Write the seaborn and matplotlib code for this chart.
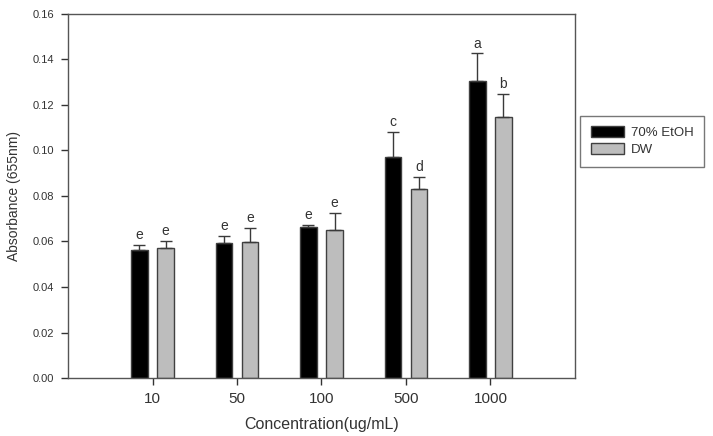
import numpy as np
import pandas as pd
import matplotlib
matplotlib.use("Agg")
import matplotlib.pyplot as plt
import seaborn as sns

# Datos
concentraciones = ["10", "50", "100", "500", "1000"]
etoh_media = [0.0563, 0.0595, 0.0662, 0.0973, 0.1307]
etoh_err = [0.0022, 0.0031, 0.0012, 0.0110, 0.0120]
dw_media = [0.0571, 0.0599, 0.0650, 0.0830, 0.1146]
dw_err = [0.0032, 0.0061, 0.0075, 0.0055, 0.0102]
letras_etoh = ["e", "e", "e", "c", "a"]
letras_dw = ["e", "e", "e", "d", "b"]
grupos = ["70% EtOH", "DW"]

df = pd.DataFrame({
    "conc": concentraciones * 2,
    "abs": etoh_media + dw_media,
    "err": etoh_err + dw_err,
    "letra": letras_etoh + letras_dw,
    "grupo": [grupos[0]] * 5 + [grupos[1]] * 5,
})

sns.set_theme(style="white")
plt.rcParams["font.family"] = ["Liberation Sans", "DejaVu Sans"]

fig = plt.figure(figsize=(7.13, 4.36), dpi=100)
ax = fig.add_axes([0.0954, 0.133, 0.711, 0.835])

sns.barplot(
    data=df, x="conc", y="abs", hue="grupo", order=concentraciones,
    hue_order=grupos, palette=["#000000", "#bdbdbd"], width=0.616, gap=0.38,
    edgecolor="#404040", linewidth=1, errorbar=None, ax=ax, saturation=1,
)

# Barras de error (solo hacia arriba) y letras de significancia
for i, grupo in enumerate(grupos):
    sub = df[df["grupo"] == grupo].set_index("conc").loc[concentraciones]
    cont = ax.containers[i]
    xs = [p.get_x() + p.get_width() / 2 for p in cont.patches]
    ys = sub["abs"].values
    es = sub["err"].values
    ax.errorbar(xs, ys, yerr=[np.zeros_like(es), es], fmt="none",
                ecolor="#3a3a3a", elinewidth=1, capsize=4, capthick=1, zorder=3)
    for x, y, e, l in zip(xs, ys, es, sub["letra"].values):
        ax.text(x, y + e + 0.0012, l, ha="center", va="bottom",
                fontsize=10, color="#333333")

ax.set_xlim(-1, 5)
ax.set_ylim(0, 0.16)
ax.set_yticks(np.arange(0, 0.161, 0.02))
ax.set_yticklabels([f"{v:.2f}" for v in np.arange(0, 0.161, 0.02)])
ax.tick_params(axis="y", labelsize=8, colors="#333333", direction="out",
               length=5, width=1, left=True, pad=5)
ax.tick_params(axis="x", labelsize=11, colors="#333333", direction="out",
               length=5, width=1, bottom=True, pad=5)
ax.set_xlabel("Concentration(ug/mL)", fontsize=11.5, color="#333333", labelpad=8)
ax.set_ylabel("Absorbance (655nm)", fontsize=10, color="#333333", labelpad=8)

for s in ax.spines.values():
    s.set_color("#555555")
    s.set_linewidth(1)

leg = ax.legend(loc="upper left", bbox_to_anchor=(1.0099, 0.72), fontsize=9.5,
                frameon=True, fancybox=False, edgecolor="#555555",
                handlelength=2.5, handleheight=0.85, borderpad=0.8,
                labelspacing=0.3, handletextpad=0.55, borderaxespad=0)
leg.get_frame().set_linewidth(1)
for t in leg.get_texts():
    t.set_color("#333333")

fig.savefig("out.png", dpi=100)
